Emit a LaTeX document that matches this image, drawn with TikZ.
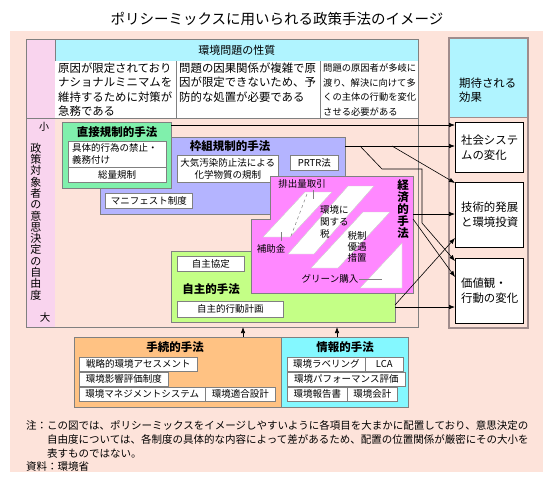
\documentclass[tikz,border=0pt]{standalone}
\usepackage{fontspec}
\setmainfont{Noto Sans CJK JP}
\usetikzlibrary{arrows.meta}
\definecolor{bgpink}{HTML}{FDE3DA}
\definecolor{strippink}{HTML}{F9D4EE}
\definecolor{hcyan}{HTML}{B0F4FF}
\definecolor{dgreen}{HTML}{80F0AC}
\definecolor{lav}{HTML}{B4B4FF}
\definecolor{epink}{HTML}{FF88FF}
\definecolor{agreen}{HTML}{C4FF86}
\definecolor{orng}{HTML}{FFC283}
\definecolor{icyan}{HTML}{84F8FF}
\definecolor{frm}{HTML}{808080}
\definecolor{colfrm}{HTML}{A08C8C}
\newcommand\mkbox[7]{\node[#1, anchor=north west, minimum width={#5-#3}, minimum height={#6-#4}] (#2) at (#3,#4) {#7};}
\tikzset{
  wbox/.style={draw=frm, fill=white, line width=.7pt, inner sep=0pt, font=\fontsize{9.5}{12}\selectfont},
  cbox/.style={draw=frm, line width=.9pt, inner sep=0pt},
  effbox/.style={draw=black, fill=white, line width=1.3pt, inner sep=0pt, align=left, font=\fontsize{11.4}{15}\selectfont},
  ttl/.style={font=\bfseries\fontsize{11.5}{12}\selectfont, inner sep=0pt},
  small/.style={font=\fontsize{9.5}{12}\selectfont, inner sep=0pt},
  body/.style={font=\fontsize{11.4}{14.5}\selectfont, inner sep=0pt, align=left},
  note/.style={font=\fontsize{10.5}{12}\selectfont, inner sep=0pt, anchor=west},
  arr/.style={-{Latex[length=6pt,width=4.5pt]}, line width=.6pt},
  para/.style={fill=white, draw=gray!40, line width=.4pt},
  leader/.style={draw=gray, line width=.5pt},
}
\begin{document}
\begin{tikzpicture}[x=1pt,y=-1pt]
\useasboundingbox (0,0) rectangle (554,483);
\fill[bgpink] (10,31) rectangle (543,472);

% title
\node[font=\fontsize{14.5}{15}\selectfont, inner sep=0pt] (title) at (277,19) {ポリシーミックスに用いられる政策手法のイメージ};

% main frame, header
\fill[strippink] (26,39) rectangle (55,327);
\mkbox{draw=frm, fill=hcyan, line width=.7pt, inner sep=0pt, font=\fontsize{11}{12}\selectfont}{hdr}{55}{39}{418}{61}{環境問題の性質}
\fill[white] (55,61) rectangle (418,118);
\draw[frm, line width=.7pt] (176,61) -- (176,118) (320,61) -- (320,118) (26,118) -- (418,118);
\draw[frm, line width=.8pt] (26,39) rectangle (418,327);
\node[body, anchor=west] (c1) at (58,89.75) {原因が限定されており\\ナショナルミニマムを\\維持するために対策が\\急務である};
\node[body, anchor=west] (c2) at (179,82.5) {問題の因果関係が複雑で原\\因が限定できないため、予\\防的な処置が必要である};
\node[body, anchor=west, font=\fontsize{9.3}{14.5}\selectfont] (c3) at (323,89.75) {問題の原因者が多岐に\\渡り、解決に向けて多\\くの主体の行動を変化\\させる必要がある};

% left strip
\node[font=\fontsize{10}{11}\selectfont, inner sep=0pt] (small) at (44,127) {小};
\node[font=\fontsize{11}{11.3}\selectfont, inner sep=0pt, align=center] (axis) at (36,221.5) {政\\策\\対\\象\\者\\の\\意\\思\\決\\定\\の\\自\\由\\度};
\node[font=\fontsize{10.5}{11}\selectfont, inner sep=0pt] (large) at (45,317) {大};

% right column
\fill[hcyan] (449,38) rectangle (528,117);
\draw[colfrm, line width=.8pt] (449,117) -- (528,117);
\draw[colfrm, line width=1.2pt] (449,38) rectangle (528,328);
\node[body, anchor=west, font=\fontsize{11.4}{14.5}\selectfont] (effT) at (459,90) {期待される\\効果};
\mkbox{effbox}{eff1}{455}{122}{523}{172}{社会システ\\ムの変化}
\mkbox{effbox}{eff2}{455}{182}{523}{247}{技術的発展\\と環境投資}
\mkbox{effbox}{eff3}{455}{258}{523}{323}{価値観・\\行動の変化}

% framework regulation
\mkbox{cbox, fill=lav}{lav}{100}{137}{345}{214}{}
\node[ttl] (lavT) at (230,146) {枠組規制的手法};
\mkbox{wbox, align=center}{taiki}{177}{155}{278}{182}{大気汚染防止法による\\化学物質の規制}
\mkbox{wbox}{prtr}{290}{155}{338}{170}{PRTR法}
\mkbox{wbox}{mani}{105}{193}{192}{208}{マニフェスト制度}

% direct regulation
\mkbox{cbox, fill=dgreen}{direct}{62}{122}{171}{188}{}
\node[ttl] (dirT) at (117,132) {直接規制的手法};
\mkbox{wbox}{dirIn}{68}{141}{166}{182}{}
\draw[frm, line width=.7pt] (dirIn.west |- 0,167) -- (dirIn.east |- 0,167);
\node[small, anchor=west, align=left] (dirA) at (72,154) {具体的行為の禁止・\\義務付け};
\node[small] (dirB) at (117,175) {総量規制};

% voluntary
\mkbox{cbox, fill=agreen}{auto}{171}{251}{395}{322}{}
\mkbox{wbox}{kyotei}{177}{256}{244}{271}{自主協定}
\node[ttl] (autoT) at (211,289) {自主的手法};
\mkbox{wbox}{kodo}{177}{301}{283}{317}{自主的行動計画}

% economic
\filldraw[fill=epink, draw=frm, line width=.9pt] (270,176) -- (413,176) -- (413,293) -- (251,293) -- (251,219) -- (270,219) -- cycle;
\filldraw[para] (263,237) -- (305,192) -- (332,192) -- (290,237) -- cycle;
\draw[gray, dashed, line width=.5pt] (307,194) -- (291,236);
\filldraw[para] (288,254) -- (348,186) -- (374,186) -- (314,254) -- cycle;
\filldraw[para] (311,268) -- (363,212) -- (390,212) -- (338,268) -- cycle;
\filldraw[para] (402,243) -- (402,288) -- (360,288) -- cycle;
\node[small] (haishutsu) at (302,184) {排出量取引};
\draw[leader] (313,190) -- (313,199);
\node[small] (hojo) at (271,249) {補助金};
\draw[leader] (281,232) -- (281,241);
\node[small, anchor=west, align=left] (zei) at (320,221.5) {環境に\\関する\\税};
\node[small, align=center, font=\fontsize{9.5}{11}\selectfont] (yugu) at (357,247) {税制\\優遇\\措置};
\node[small] (green) at (330,279) {グリーン購入};
\draw[leader] (359,279) -- (382,279);
\node[ttl, align=center] (econT) at (403,209) {経\\済\\的\\手\\法};

% procedure and information
\mkbox{cbox, fill=orng}{proc}{74}{337}{281}{407}{}
\mkbox{cbox, fill=icyan}{info}{281}{337}{408}{407}{}
\node[ttl] (procT) at (175,347) {手続的手法};
\node[ttl] (infoT) at (345,347) {情報的手法};
\mkbox{wbox}{p1}{79}{357}{197}{371}{戦略的環境アセスメント}
\mkbox{wbox}{p2}{79}{372}{168}{386}{環境影響評価制度}
\mkbox{wbox}{p3}{79}{387}{205}{401}{環境マネジメントシステム}
\mkbox{wbox}{p4}{205}{387}{275}{401}{環境適合設計}
\mkbox{wbox}{i1}{287}{357}{365}{371}{環境ラベリング}
\mkbox{wbox}{i2}{365}{357}{403}{371}{LCA}
\mkbox{wbox}{i3}{287}{372}{405}{386}{環境パフォーマンス評価}
\mkbox{wbox}{i4}{287}{387}{347}{401}{環境報告書}
\mkbox{wbox}{i5}{347}{387}{397}{401}{環境会計}

% connectors
\coordinate (a1) at (171,125);
\coordinate (a2) at (345,146);
\coordinate (b3) at (360,146);
\coordinate (b4) at (392,146);
\coordinate (k1) at (382,169);
\coordinate (k2) at (422,169);
\coordinate (k3) at (422,223);
\coordinate (e1) at (413,214);
\coordinate (e2) at (413,219);
\coordinate (g1) at (395,305);
\coordinate (g2) at (395,307);
\draw[arr] (a1) -- (a1 -| eff1.west);
\draw[arr] (a2) -- (a2 -| eff1.west);
\draw[arr] (b3) -- (k1) -- (k2) -- (k3) -- ([yshift=-3pt]eff3.north west);
\draw[arr] (b4) -- ([yshift=-1pt]eff2.north west);
\draw[arr] (e1) -- (e1 -| eff2.west);
\draw[arr] (e2) -- (eff3.west |- 0,277);
\draw[arr] (g1) -- (eff2.west |- 0,238);
\draw[arr] (g2) -- (g2 -| eff3.west);
\coordinate (u1) at (243,327);
\coordinate (u2) at (337,327);
\draw[arr] (u1 |- proc.north) -- (u1);
\draw[arr] (u2 |- info.north) -- (u2);

% note
\node[note] (n1) at (26,425) {注：この図では、ポリシーミックスをイメージしやすいように各項目を大まかに配置しており、意思決定の};
\node[note] (n2) at (47,439.5) {自由度については、各制度の具体的な内容によって差があるため、配置の位置関係が厳密にその大小を};
\node[note] (n3) at (47,453) {表すものではない。};
\node[note] (n4) at (26,467) {資料：環境省};
\end{tikzpicture}
\end{document}
